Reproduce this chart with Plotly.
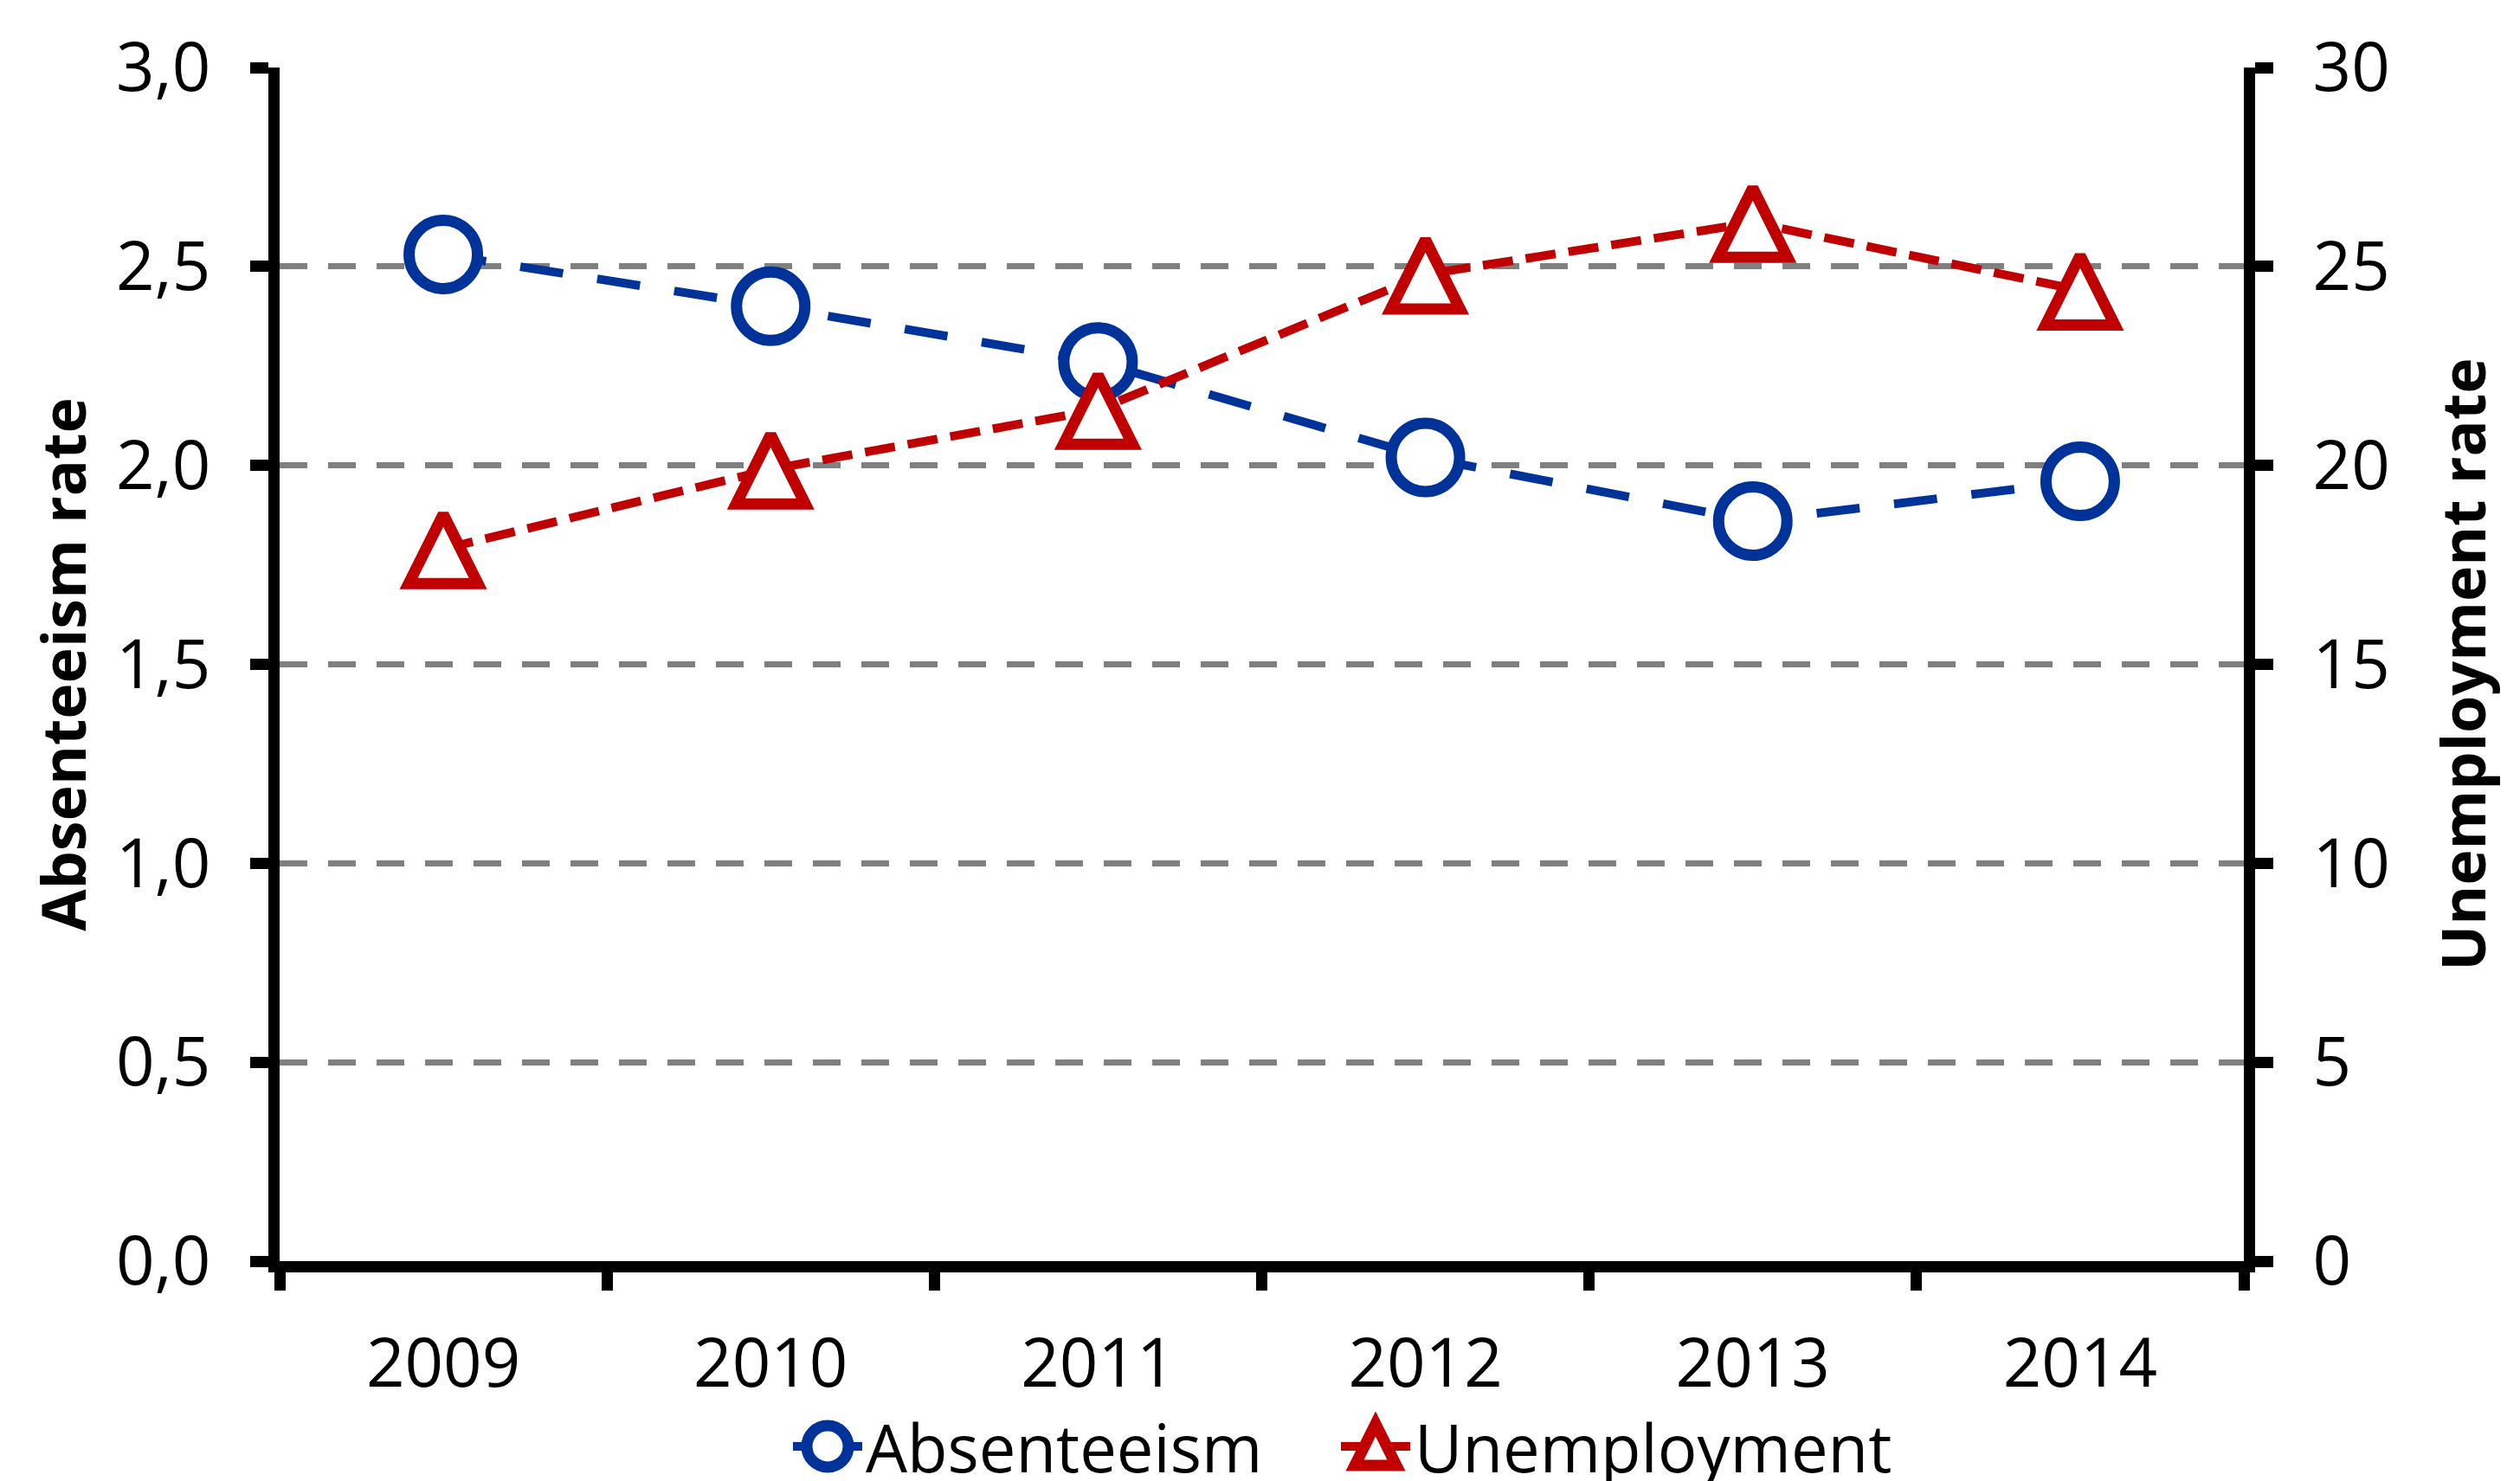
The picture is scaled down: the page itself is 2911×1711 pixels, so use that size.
import plotly.graph_objects as go

years = ["2009", "2010", "2011", "2012", "2013", "2014"]
absenteeism = [2.53, 2.40, 2.26, 2.02, 1.86, 1.96]
unemployment = [17.9, 19.9, 21.4, 24.8, 26.1, 24.4]
left_ticks = [0.0, 0.5, 1.0, 1.5, 2.0, 2.5, 3.0]
right_ticks = [0, 5, 10, 15, 20, 25, 30]

BLUE = "#003399"
RED = "#C00000"
FONT = "Open Sans"

# the page has an 8px body margin, so the figure is drawn 8px in
W, H = 2903, 1703
ML, MR, MT, MB = 315, 319, 70, 254
PW = W - ML - MR
PH = H - MT - MB

TRI = 80
R_MAX = 30
# the arrow-shaped triangle has its tip at the data point; an invisible twin
# axis lifts it by half its height so that it is centred on the point
shift = (TRI / 2) * R_MAX / PH

fig = go.Figure()
fig.add_trace(go.Scatter(
    x=years, y=absenteeism, name="Absenteeism", mode="lines+markers",
    line=dict(color=BLUE, width=10, dash="50px,40px"),
    marker=dict(symbol="circle", size=79, color="white", line=dict(color=BLUE, width=13)),
    yaxis="y", showlegend=False,
))
fig.add_trace(go.Scatter(
    x=years, y=unemployment, name="Unemployment", mode="lines",
    line=dict(color=RED, width=10, dash="35px,15px"),
    yaxis="y2", showlegend=False,
))
fig.add_trace(go.Scatter(
    x=years, y=unemployment, name="Unemployment", mode="markers",
    marker=dict(symbol="arrow-up", size=TRI, color="white",
                line=dict(color=RED, width=13)),
    yaxis="y3", showlegend=False,
))

tickfont = dict(family=FONT, size=78, color="black")
titlefont = dict(family=FONT, size=70, color="black", weight="bold")

fig.update_layout(
    width=W, height=H,
    margin=dict(l=ML, r=MR, t=MT, b=MB, autoexpand=False),
    paper_bgcolor="white", plot_bgcolor="white",
    separators=",.",
    showlegend=False,
    xaxis=dict(
        type="category", tickson="boundaries", ticks="outside", ticklen=21,
        tickwidth=13, tickcolor="black", showline=True, linecolor="black",
        linewidth=13, showgrid=False, tickfont=tickfont, ticklabelstandoff=38,
        range=[-0.5, 5.5], zeroline=False,
    ),
    yaxis=dict(
        range=[0, 3], tickvals=left_ticks, tickformat=".1f",
        ticks="outside", ticklen=21, tickwidth=13, tickcolor="black",
        showline=True, linecolor="black", linewidth=13,
        showgrid=True, gridcolor="#808080", gridwidth=7, griddash="32px,24px",
        zeroline=False, tickfont=tickfont, ticklabelstandoff=30,
        title=dict(text="Absenteeism rate", font=titlefont, standoff=17),
    ),
    yaxis2=dict(
        range=[0, R_MAX], tickvals=right_ticks, overlaying="y", side="right",
        ticks="outside", ticklen=21, tickwidth=13, tickcolor="black",
        showline=True, linecolor="black", linewidth=13,
        showgrid=False, zeroline=False, tickfont=tickfont, ticklabelstandoff=30,
        title=dict(text="Unemployment rate", font=titlefont, standoff=68),
    ),
    yaxis3=dict(
        range=[-shift, R_MAX - shift], overlaying="y", visible=False,
    ),
)

# custom legend (large markers like the original)
def px2x(px):
    return (px - ML) / PW

def py2y(py):
    return (H - MB - py) / PH

ly = py2y(1663)
items = [
    ("Absenteeism", BLUE, "circle", 948, 990),
    ("Unemployment", RED, "triangle", 1581, 1624),
]
shapes = []
annotations = []
for label, color, sym, cx, tx in items:
    xa = px2x(cx)
    shapes.append(dict(type="line", xref="paper", yref="paper", xsizemode="pixel",
                       ysizemode="pixel", xanchor=xa, yanchor=ly, x0=-40, x1=40, y0=0, y1=0,
                       line=dict(color=color, width=10), layer="above"))
    if sym == "circle":
        shapes.append(dict(type="circle", xref="paper", yref="paper", xsizemode="pixel",
                           ysizemode="pixel", xanchor=xa, yanchor=ly, x0=-24, x1=24, y0=-24, y1=24,
                           fillcolor="white", line=dict(color=color, width=13), layer="above"))
    else:
        shapes.append(dict(type="path", xref="paper", yref="paper", xsizemode="pixel",
                           ysizemode="pixel", xanchor=xa, yanchor=ly,
                           path="M -24,-22 L 24,-22 L 0,26 Z",
                           fillcolor="white", line=dict(color=color, width=13), layer="above"))
    annotations.append(dict(text=label, xref="paper", yref="paper", x=px2x(tx), y=ly,
                            xanchor="left", yanchor="middle", showarrow=False,
                            font=dict(family=FONT, size=76, color="black")))
fig.update_layout(shapes=shapes, annotations=annotations)

fig.write_html("out.html")
